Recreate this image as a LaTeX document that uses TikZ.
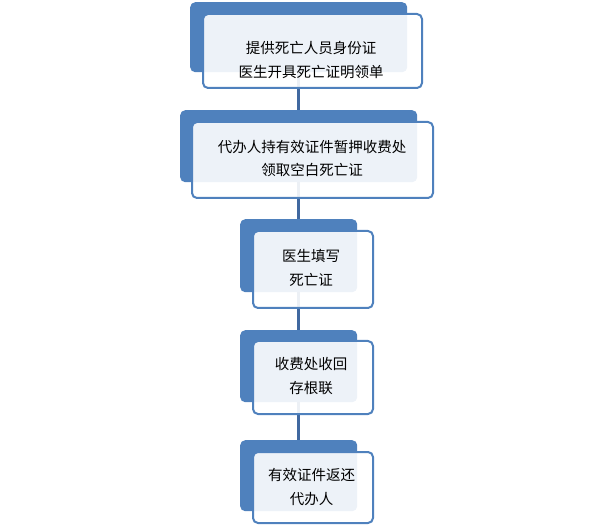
\documentclass[tikz,border=0pt]{standalone}
\usepackage{fontspec}
\newfontfamily\cjk{Noto Sans CJK SC}
\usepackage{tikz}
\definecolor{accent}{RGB}{79,129,189}
\definecolor{linkblue}{RGB}{64,104,160}
\tikzset{
  backbox/.style={rectangle, rounded corners=5pt, fill=accent, draw=none,
                  inner sep=0pt, anchor=north west},
  frontbox/.style={rectangle, rounded corners=5pt, draw=accent, line width=2pt,
                   fill=white, fill opacity=0.9, inner sep=0pt, anchor=north west},
  steptext/.style={font=\cjk\fontsize{14.5}{24}\selectfont, align=center,
                   text=black, inner sep=0pt},
  link/.style={line width=2.6pt, color=linkblue},
}
\begin{document}
\begin{tikzpicture}[x=1pt, y=-1pt]
  \useasboundingbox (0,0) rectangle (610,526);
  % back boxes
  \node[backbox, minimum width=217pt, minimum height=70pt] (b1) at (190,2) {};
  \node[backbox, minimum width=237pt, minimum height=72pt] (b2) at (180,110) {};
  \node[backbox, minimum width=117pt, minimum height=73pt] (b3) at (240,219) {};
  \node[backbox, minimum width=117pt, minimum height=72pt] (b4) at (240,330) {};
  \node[backbox, minimum width=117pt, minimum height=71pt] (b5) at (240,440) {};
  % connectors
  \draw[link] (b1.south) -- (b2.north);
  \draw[link] (b2.south) -- (b3.north);
  \draw[link] (b3.south) -- (b4.north);
  \draw[link] (b4.south) -- (b5.north);
  % front boxes
  \node[frontbox, minimum width=219pt, minimum height=74pt] (f1) at (202,13) {};
  \node[frontbox, minimum width=241pt, minimum height=76pt] (f2) at (191,121) {};
  \node[frontbox, minimum width=120pt, minimum height=77pt] (f3) at (252,230) {};
  \node[frontbox, minimum width=120pt, minimum height=73pt] (f4) at (252,340) {};
  \node[frontbox, minimum width=120pt, minimum height=71pt] (f5) at (252,451) {};
  % labels
  \node[steptext] (t1) at (311,60) {提供死亡人员身份证\\医生开具死亡证明领单};
  \node[steptext] (t2) at (312,158.5) {代办人持有效证件暂押收费处\\领取空白死亡证};
  \node[steptext] (t3) at (311,267.5) {医生填写\\死亡证};
  \node[steptext] (t4) at (311,376.5) {收费处收回\\存根联};
  \node[steptext] (t5) at (311.5,487.5) {有效证件返还\\代办人};
\end{tikzpicture}
\end{document}
